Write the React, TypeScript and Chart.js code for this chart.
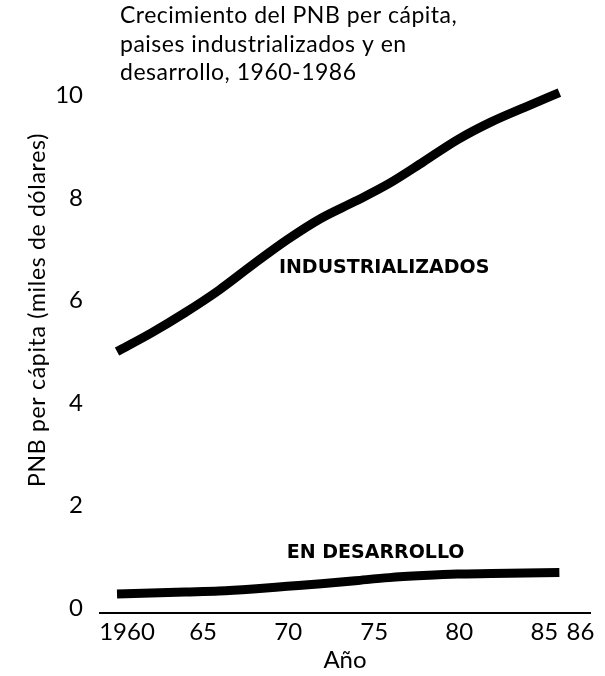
import { useEffect, useRef } from "react";
import { Chart, registerables } from "chart.js";

Chart.register(...registerables);

// ---- data ----
const years = [1960, 1962, 1964, 1966, 1968, 1970, 1972, 1974, 1976, 1978, 1980, 1982, 1984, 1986];
const industrializados = [5.0, 5.36, 5.76, 6.2, 6.7, 7.18, 7.6, 7.93, 8.28, 8.7, 9.13, 9.48, 9.77, 10.05];
const enDesarrollo = [0.27, 0.29, 0.31, 0.33, 0.37, 0.42, 0.47, 0.53, 0.59, 0.63, 0.66, 0.67, 0.68, 0.69];

const yTickValues = [0, 2, 4, 6, 8, 10];
const xTickYears = [1960, 1965, 1970, 1975, 1980, 1985, 1986];
const xTickLabels = ["1960", "65", "70", "75", "80", "85", "86"];

const titleLines = [
  "Crecimiento del PNB per cápita,",
  "paises industrializados y en",
  "desarrollo, 1960-1986",
];
const yTitle = "PNB per cápita (miles de dólares)";
const xTitle = "Año";
const seriesNames = ["INDUSTRIALIZADOS", "EN DESARROLLO"];
// label anchor positions in data units (year, value)
const labelYears = [1975.7, 1975.2];
const labelValues = [6.62, 1.07];

// ---- styles ----
const FONT = "Lato, 'DejaVu Sans', sans-serif";
const xTickShift = [10, 1, 1, 2, 2, 2, 21];

export default function App() {
  const ref = useRef<HTMLCanvasElement>(null);

  useEffect(() => {
    const canvas = ref.current;
    if (!canvas) return;

    const decor = {
      id: "decor",
      afterDraw(chart: any) {
        const ctx = chart.ctx as any;
        const xs = chart.scales.x;
        const ys = chart.scales.y;
        ctx.save();
        ctx.fillStyle = "#000";
        // title
        ctx.font = `23px ${FONT}`;
        ctx.letterSpacing = "0.5px";
        ctx.textAlign = "left";
        ctx.textBaseline = "alphabetic";
        titleLines.forEach((t, i) => ctx.fillText(t, 120, 23 + i * 28.5));
        // y title
        ctx.save();
        ctx.translate(38, 310);
        ctx.rotate(-Math.PI / 2);
        ctx.font = `23px ${FONT}`;
        ctx.letterSpacing = "0.7px";
        ctx.textAlign = "center";
        ctx.textBaseline = "middle";
        ctx.fillText(yTitle, 0, 0);
        ctx.restore();
        ctx.letterSpacing = "0px";
        // x tick labels
        ctx.font = `24px ${FONT}`;
        ctx.textAlign = "center";
        ctx.textBaseline = "middle";
        xTickYears.forEach((yr, i) => {
          ctx.fillText(xTickLabels[i], xs.getPixelForValue(yr) + xTickShift[i], 632);
        });
        // series labels
        ctx.font = `bold 19px 'DejaVu Sans', sans-serif`;
        seriesNames.forEach((n, i) => {
          ctx.fillText(n, xs.getPixelForValue(labelYears[i]), ys.getPixelForValue(labelValues[i]));
        });
        ctx.restore();
      },
    };

    const chart = new Chart(canvas, {
      type: "line",
      data: {
        datasets: [
          {
            label: seriesNames[0],
            data: years.map((y, i) => ({ x: y, y: industrializados[i] })),
            borderColor: "#000",
            borderWidth: 9,
            pointRadius: 0,
            cubicInterpolationMode: "monotone",
            borderCapStyle: "butt",
          },
          {
            label: seriesNames[1],
            data: years.map((y, i) => ({ x: y, y: enDesarrollo[i] })),
            borderColor: "#000",
            borderWidth: 9,
            pointRadius: 0,
            cubicInterpolationMode: "monotone",
            borderCapStyle: "butt",
          },
        ],
      },
      options: {
        animation: false,
        responsive: false,
        devicePixelRatio: 1,
        layout: { padding: { top: 85, right: 15, left: 0, bottom: 0 } },
        plugins: {
          legend: { display: false },
          tooltip: { enabled: false },
          title: { display: false },
        },
        scales: {
          x: {
            type: "linear",
            min: 1959,
            max: 1987.8,
            grid: { display: false, drawTicks: false },
            border: { display: true, color: "#000", width: 2 },
            ticks: { display: false },
            title: {
              display: true,
              text: xTitle,
              color: "#000",
              font: { family: FONT, size: 24 },
              padding: { top: 0, bottom: 1 },
            },
            afterFit: (s: any) => {
              s.height = 63;
            },
          },
          y: {
            type: "linear",
            min: -0.1,
            max: 10.2,
            grid: { display: false, drawTicks: false },
            border: { display: false },
            afterBuildTicks: (s: any) => {
              s.ticks = yTickValues.map((v) => ({ value: v }));
            },
            ticks: {
              color: "#000",
              font: { family: FONT, size: 24 },
              padding: 17,
              autoSkip: false,
            },
            afterFit: (s: any) => {
              s.width = 100;
            },
          },
        },
      } as any,
      plugins: [decor],
    });

    return () => chart.destroy();
  }, []);

  return (
    <div style={{ position: "absolute", left: 0, top: 0, width: 605, height: 676, background: "#fff" }}>
      <canvas ref={ref} width={605} height={676} />
    </div>
  );
}
